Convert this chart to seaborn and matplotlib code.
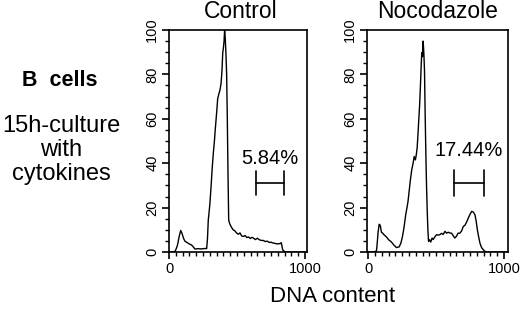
import matplotlib
matplotlib.use("Agg")
import matplotlib.pyplot as plt
import seaborn as sns
import pandas as pd
from matplotlib.ticker import MultipleLocator

sns.set_theme(style="ticks")
plt.rcParams['font.family'] = ['Liberation Sans', 'DejaVu Sans']

# Data
control_x = [0, 40, 50, 62, 75, 86, 95, 108, 118, 135, 150, 167, 180, 191, 210, 240, 265, 277,
             283, 289, 295, 301, 310, 318, 326, 334, 340, 346, 352, 358, 366, 375, 383, 390, 395,
             400, 405, 409, 414, 419, 424, 429, 434, 439, 445, 452, 461, 472, 485, 498, 510, 522,
             535, 547, 560, 572, 585, 598, 610, 620, 635, 650, 665, 680, 694, 708, 722, 738, 752,
             767, 780, 795, 808, 816, 826, 836, 845, 853, 870, 1000]
control_y = [0, 0, 1, 3, 7, 9.7, 8.5, 6, 4.8, 4.2, 3.6, 3.1, 2.2, 1.3, 1.5, 1.4, 1.6, 1.5,
             6, 14.5, 18, 22, 30, 38, 44.5, 50, 55, 59.5, 64, 69, 71, 73, 76, 82, 89.5,
             92, 95, 100, 96, 89, 80, 59.5, 35, 14.5, 13, 12, 11, 10, 9.5, 8.5, 8, 8.6,
             7.2, 7, 7.4, 6.5, 6.8, 6.1, 6.6, 6.3, 5.6, 6.2, 5.5, 5.2, 5.2, 4.7, 4.9, 4.3, 4.4,
             4, 3.9, 3.6, 3.8, 3.7, 4.2, 1, 0.5, 0, 0, 0]

noco_x = [-10, 40, 60, 64, 72, 80, 88, 96, 108, 120, 133, 150, 170, 190, 207, 227, 240, 251,
          263, 276, 285, 293, 302, 310, 320, 330, 338, 347, 354, 360, 366, 372, 378, 384, 389,
          394, 399, 404, 409, 414, 419, 424, 429, 434, 439, 444, 452, 460, 470, 478, 490, 503,
          515, 527, 540, 552, 565, 577, 590, 603, 614, 626, 638, 650, 662, 675, 688, 700,
          712, 725, 737, 750, 762, 774, 786, 795, 804, 813, 823, 835, 848, 860, 872, 1025]
noco_y = [0, 0, 0.5, 3, 9, 12.5, 12, 9, 8.3, 7.5, 6.8, 5.5, 4.5, 3, 2, 2.3, 4, 6.8,
          11, 17, 20, 23, 28, 32.5, 37, 40, 43, 41.5, 44, 47, 53, 59.7, 66, 74.7, 83,
          89.8, 88, 95, 90, 82, 62, 44.7, 30, 19, 10, 4.8, 5.5, 4.5, 6.3, 5.6, 6.8, 7.8,
          7.6, 7.8, 8.4, 7.9, 9.3, 8.5, 8.9, 8.5, 8.5, 7.3, 6.3, 7.1, 8.5, 8.5, 9.5, 11.5,
          12, 13.5, 15.3, 17, 18.3, 18, 16.8, 14, 10, 7, 4, 2, 1, 0.3, 0, 0]

titles = ["Control", "Nocodazole"]
percents = ["5.84%", "17.44%"]
gate_lo = [637, 630]
gate_hi = [846, 852]
gate_y = [31, 31]
gate_cap = [5.5, 5.8]
pct_y = [38, 41.5]
yticks = [0, 20, 40, 60, 80, 100]
xticks = [0, 1000]

fig = plt.figure(figsize=(5.2, 3.1), dpi=100)
ax1 = fig.add_axes([169/520, 1-252/310, 138/520, 222/310])
ax2 = fig.add_axes([367/520, 1-252/310, 141/520, 222/310])
axes = [ax1, ax2]
xlims = [(0, 1015), (-10, 1030)]
title_x = [241, 438]

dfs = [pd.DataFrame({"x": control_x, "y": control_y}),
       pd.DataFrame({"x": noco_x, "y": noco_y})]

for i, ax in enumerate(axes):
    sns.lineplot(data=dfs[i], x="x", y="y", ax=ax, color="black", lw=1.0,
                 sort=False, estimator=None)
    ax.set_xlim(*xlims[i])
    ax.set_ylim(0, 100)
    ax.set_xlabel("")
    ax.set_ylabel("")
    ax.set_xticks(xticks)
    ax.set_yticks(yticks)
    ax.xaxis.set_minor_locator(MultipleLocator(50))
    ax.yaxis.set_minor_locator(MultipleLocator(5))
    ax.tick_params(axis="both", which="major", length=5, width=1.2, color="black",
                   labelsize=10.5, pad=2, labelcolor="black")
    ax.tick_params(axis="both", which="minor", length=3, width=1.0, color="black")
    for lab in ax.get_yticklabels():
        lab.set_rotation(90)
        lab.set_va("center")
    for s in ax.spines.values():
        s.set_visible(True)
        s.set_color("black")
        s.set_linewidth(1.2)
    fig.text(title_x[i]/520, 1-12/310, titles[i], ha="center", va="center",
             fontsize=16.5, color="black")
    # gate bar
    ax.plot([gate_lo[i], gate_hi[i]], [gate_y[i], gate_y[i]], color="black", lw=1.2)
    for gx in (gate_lo[i], gate_hi[i]):
        ax.plot([gx, gx], [gate_y[i]-gate_cap[i], gate_y[i]+gate_cap[i]], color="black", lw=1.2)
    ax.text((gate_lo[i]+gate_hi[i])/2, pct_y[i], percents[i], ha="center", va="bottom",
            fontsize=14.5, color="black")

fig.text(60/520, 1-80/310, "B  cells", ha="center", va="center", fontsize=15.5,
         fontweight="bold", color="black")
fig.text(61/520, 1-150/310, "15h-culture\nwith\ncytokines", ha="center", va="center",
         fontsize=17, linespacing=1.1, color="black")
fig.text(333/520, 1-296/310, "DNA content", ha="center", va="center", fontsize=16,
         color="black")

fig.savefig("out.png", dpi=100)
